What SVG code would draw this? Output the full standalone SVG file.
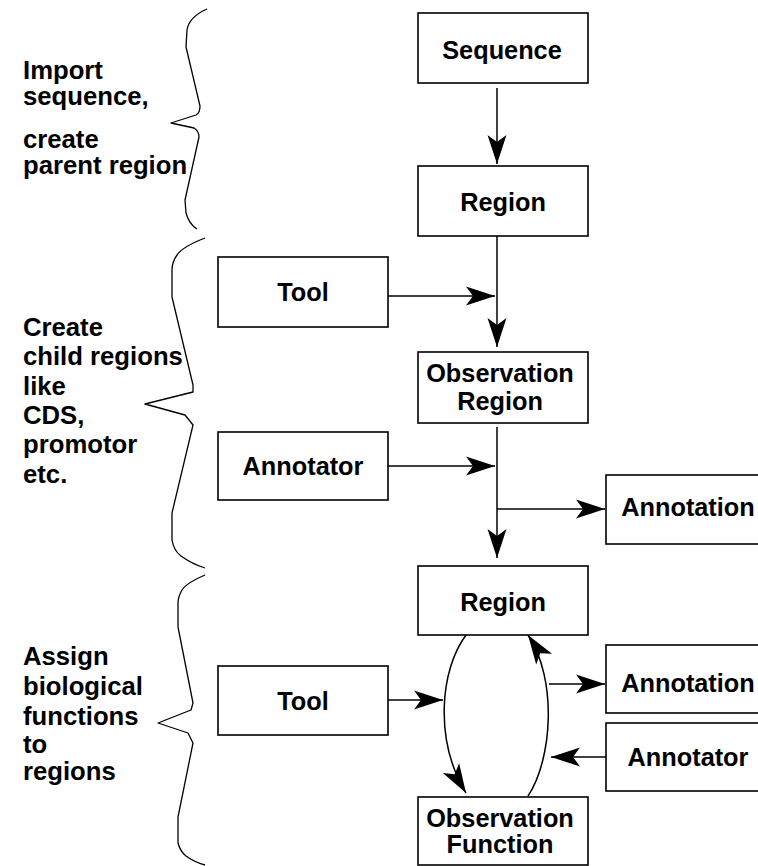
<svg xmlns="http://www.w3.org/2000/svg" width="758" height="866" viewBox="0 0 758 866">
<style>
.box{fill:#fff;stroke:#000;stroke-width:1.6}
.t{font-family:"Liberation Sans",Arial,sans-serif;font-weight:bold;font-size:25.3px;fill:#000;text-anchor:middle}
.l{font-family:"Liberation Sans",Arial,sans-serif;font-weight:bold;font-size:25.7px;fill:#000}
.c{fill:none;stroke:#000;stroke-width:1.5}
.br{fill:none;stroke:#000;stroke-width:1.3;stroke-linejoin:round}
</style>
<defs>
<marker id="ah" markerUnits="userSpaceOnUse" markerWidth="32" markerHeight="22" viewBox="-30 -11 32 22" refX="0" refY="0" orient="auto">
<path d="M0,0 L-29,-9.5 L-22,0 L-29,9.5 Z" fill="#000"/>
</marker>
</defs>
<g id="braces">
<path class="br" d="M207,9 Q189,17 187,30 L186,47 L200,106 Q200,113 196,115 L171,123 L194,128 Q199,131 199,137 L185,200 L186,213 Q189,224 197,229"/>
<path class="br" d="M205,238 Q182,247 177,255 Q172,262 172,270 L172,297 L193,385 L193,392 L145,404 L185,415 L193,425 L172,513 L172,540 Q174,551 181,556 Q192,564 205,568"/>
<path class="br" d="M205,575 Q186,583 182,590 Q178,597 178,603 L178,627 L193,703 L191,710 L158,723 L188,733 L193,743 L178,817 L178,843 Q180,851 186,856 Q194,862 205,865"/>
</g>
<g id="labels">
<text class="l"><tspan x="23" y="79">Import</tspan><tspan x="23" y="105">sequence,</tspan><tspan x="23" y="148">create</tspan><tspan x="23" y="174">parent region</tspan></text>
<text class="l"><tspan x="23" y="336">Create</tspan><tspan x="23" y="365">child regions</tspan><tspan x="23" y="395">like</tspan><tspan x="23" y="424">CDS,</tspan><tspan x="23" y="453">promotor</tspan><tspan x="23" y="483">etc.</tspan></text>
<text class="l"><tspan x="23" y="665">Assign</tspan><tspan x="23" y="695">biological</tspan><tspan x="23" y="725">functions</tspan><tspan x="23" y="753">to</tspan><tspan x="23" y="780">regions</tspan></text>
</g>
<g id="connectors">
<line class="c" x1="497" y1="88" x2="497" y2="164" marker-end="url(#ah)"/>
<line class="c" x1="497" y1="236" x2="497" y2="347" marker-end="url(#ah)"/>
<line class="c" x1="388" y1="296" x2="495" y2="296" marker-end="url(#ah)"/>
<line class="c" x1="497" y1="427" x2="497" y2="558" marker-end="url(#ah)"/>
<line class="c" x1="388" y1="466" x2="495" y2="466" marker-end="url(#ah)"/>
<line class="c" x1="497" y1="509" x2="605" y2="509" marker-end="url(#ah)"/>
<path class="c" d="M466,635 C440,670 434,740 466,793" marker-end="url(#ah)"/>
<path class="c" d="M528,796 C552,760 558,680 528,635" marker-end="url(#ah)"/>
<line class="c" x1="388" y1="700" x2="443" y2="700" marker-end="url(#ah)"/>
<line class="c" x1="549" y1="684" x2="605" y2="684" marker-end="url(#ah)"/>
<line class="c" x1="606" y1="757" x2="551" y2="757" marker-end="url(#ah)"/>
</g>
<g id="sequence"><rect class="box" x="418" y="13" width="170" height="70"/><text class="t" x="502" y="59">Sequence</text></g>
<g id="region1"><rect class="box" x="418" y="166" width="170" height="70"/><text class="t" x="503" y="211">Region</text></g>
<g id="tool1"><rect class="box" x="218" y="257" width="170" height="70"/><text class="t" x="303" y="301">Tool</text></g>
<g id="obsregion"><rect class="box" x="418" y="352" width="170" height="71"/><text class="t" x="500" y="382">Observation</text><text class="t" x="500" y="410">Region</text></g>
<g id="annotator1"><rect class="box" x="218" y="432" width="170" height="68"/><text class="t" x="303" y="475">Annotator</text></g>
<g id="annotation1"><rect class="box" x="606" y="475" width="170" height="69"/><text class="t" x="688" y="516">Annotation</text></g>
<g id="region2"><rect class="box" x="418" y="566" width="170" height="69"/><text class="t" x="503" y="611">Region</text></g>
<g id="tool2"><rect class="box" x="218" y="666" width="170" height="69"/><text class="t" x="303" y="710">Tool</text></g>
<g id="annotation2"><rect class="box" x="606" y="645" width="170" height="68"/><text class="t" x="688" y="692">Annotation</text></g>
<g id="annotator2"><rect class="box" x="606" y="723" width="170" height="68"/><text class="t" x="688" y="766">Annotator</text></g>
<g id="obsfunction"><rect class="box" x="418" y="797" width="170" height="68"/><text class="t" x="500" y="827">Observation</text><text class="t" x="500" y="853">Function</text></g>
</svg>
